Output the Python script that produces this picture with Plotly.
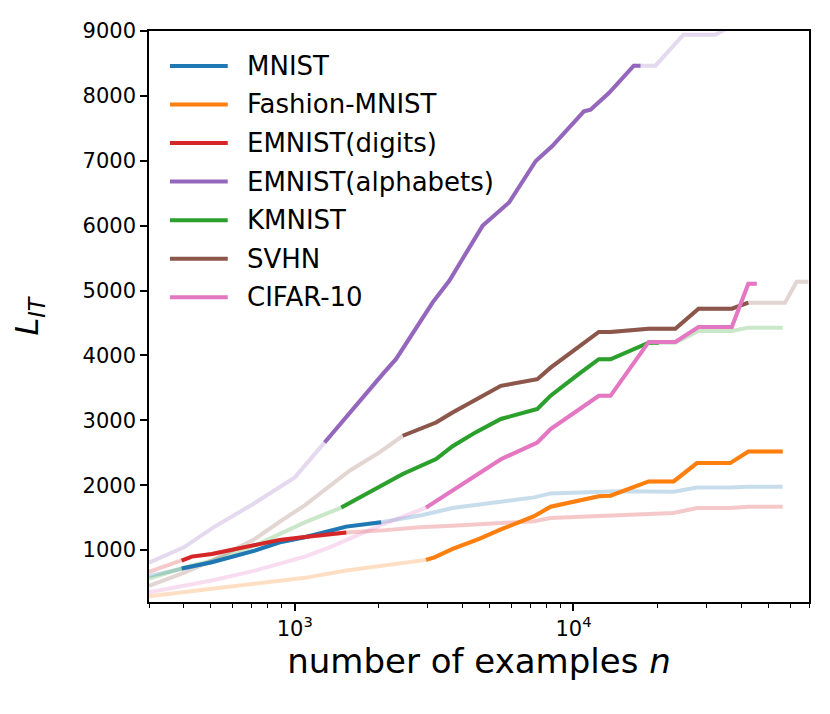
import math
import plotly.graph_objects as go

# ---------------- data ----------------
names = ["MNIST", "Fashion-MNIST", "EMNIST(digits)", "EMNIST(alphabets)",
         "KMNIST", "SVHN", "CIFAR-10"]
colors = ["#1f77b4", "#ff7f0e", "#d62728", "#9467bd", "#2ca02c", "#8c564b", "#e377c2"]

mnist_n = [300, 393, 504, 719, 884, 1086, 1531, 2042, 2877, 3684, 5490, 7223, 8280,
           12330, 14550, 22880, 27730, 36500, 42400, 56330]
mnist_L = [600, 715, 812, 992, 1120, 1197, 1362, 1428, 1541, 1649, 1751, 1812, 1874,
           1890, 1905, 1900, 1966, 1966, 1977, 1977]
mnist_solid = (1, 7)

fashion_n = [300, 504, 719, 1086, 1531, 2958, 3170, 3684, 4590, 5490, 7223, 8280,
             12330, 13580, 18620, 22880, 27730, 36500, 42400, 56330]
fashion_L = [290, 403, 480, 572, 685, 849, 889, 1018, 1172, 1318, 1523, 1669,
             1830, 1838, 2059, 2059, 2341, 2341, 2520, 2520]
fashion_solid = (5, 19)

edigits_n = [300, 393, 427, 504, 719, 884, 1086, 1531, 2014, 2800, 3684, 5490, 7223,
             8280, 14550, 22880, 27730, 36500, 42400, 56330]
edigits_L = [665, 838, 900, 941, 1069, 1157, 1200, 1272, 1300, 1351, 1377, 1413, 1444,
             1495, 1546, 1572, 1649, 1649, 1669, 1669]
edigits_solid = (1, 7)

ealpha_n = [300, 400, 511, 710, 1000, 1280, 1617, 2070, 2311, 3126, 3585, 4718, 5875,
            7325, 8395, 10905, 11520, 13400, 16460, 17400, 19690, 24800, 32270, 34550, 45000]
ealpha_L = [805, 1043, 1351, 1711, 2120, 2658, 3177, 3715, 3946, 4818, 5151, 5997, 6357,
            6997, 7228, 7762, 7787, 8043, 8465, 8465, 8465, 8942, 8942, 9010, 9400]
ealpha_solid = (5, 19)

kmnist_n = [300, 404, 504, 719, 1086, 1469, 2441, 3214, 3684, 4468, 5490, 7420, 8280,
            10460, 12330, 13580, 18620, 20230, 23200, 28100, 37000, 42400, 56330]
kmnist_L = [560, 735, 838, 1069, 1428, 1655, 2172, 2403, 2600, 2818, 3021, 3175, 3380,
            3715, 3941, 3941, 4197, 4197, 4197, 4377, 4377, 4428, 4428]
kmnist_solid = (5, 17)

svhn_n = [300, 404, 504, 719, 896, 1086, 1573, 2014, 2441, 2800, 3214, 3684, 5490, 7420,
          8280, 12330, 13580, 18620, 23200, 28100, 37000, 42400, 57400, 63200, 69600]
svhn_L = [450, 658, 838, 1172, 1454, 1690, 2223, 2505, 2762, 2865, 2966, 3120, 3531, 3634,
          3812, 4362, 4362, 4412, 4412, 4720, 4720, 4812, 4812, 5135, 5135]
svhn_solid = (8, 21)

cifar_n = [300, 504, 719, 884, 1086, 1334, 2014, 2958, 3684, 5490, 7420, 8280, 12330,
           13580, 18620, 23200, 28100, 37000, 42400, 45470]
cifar_L = [350, 531, 684, 788, 900, 1043, 1377, 1655, 1915, 2400, 2658, 2865, 3377,
           3377, 4208, 4208, 4438, 4438, 5105, 5105]
cifar_solid = (7, 19)

series_n = [mnist_n, fashion_n, edigits_n, ealpha_n, kmnist_n, svhn_n, cifar_n]
series_L = [mnist_L, fashion_L, edigits_L, ealpha_L, kmnist_L, svhn_L, cifar_L]
series_solid = [mnist_solid, fashion_solid, edigits_solid, ealpha_solid,
                kmnist_solid, svhn_solid, cifar_solid]

y_ticks = [1000, 2000, 3000, 4000, 5000, 6000, 7000, 8000, 9000]
x_ticks = [1000, 10000]
x_ticktext = ["10<sup>3</sup>", "10<sup>4</sup>"]
x_minor = [300, 400, 500, 600, 700, 800, 900, 2000, 3000, 4000, 5000, 6000, 7000,
           8000, 9000, 20000, 30000, 40000, 50000, 60000, 70000]
x_title = "number of examples <i>n</i>"
y_title = "<i>L</i><sub><i>IT</i></sub>"


def faded(hexcol, a=0.25):
    r = int(hexcol[1:3], 16); g = int(hexcol[3:5], 16); b = int(hexcol[5:7], 16)
    return f"rgba({r},{g},{b},{a})"


LW = 4
fig = go.Figure()
# faded full curves first
for nm, col, xs, ys in zip(names, colors, series_n, series_L):
    fig.add_trace(go.Scatter(x=xs, y=ys, mode="lines", showlegend=False,
                             line=dict(color=faded(col), width=LW), hoverinfo="skip"))
# solid (valid) portions
for nm, col, xs, ys, (a, b) in zip(names, colors, series_n, series_L, series_solid):
    fig.add_trace(go.Scatter(x=xs[a:b + 1], y=ys[a:b + 1], mode="lines", name=nm,
                             showlegend=False, line=dict(color=col, width=LW)))

# page has an 8px body margin -> figure is offset by 8px in the window
OFF = 8
W, H = 814, 698
ml, mr, mt, mb = 141, 11, 21, 104
pw, ph = W - ml - mr, H - mt - mb


def px2paper(x, y):
    # x, y given in window (reference) pixels
    return (x - OFF - ml) / pw, 1 - (y - OFF - mt) / ph


leg_y0 = 64.0
leg_dy = 38.7
for i, (nm, col) in enumerate(zip(names, colors)):
    yy = leg_y0 + i * leg_dy
    x0, yp = px2paper(170, yy)
    x1, _ = px2paper(228, yy)
    fig.add_shape(type="line", xref="paper", yref="paper", x0=x0, x1=x1, y0=yp, y1=yp,
                  line=dict(color=col, width=LW))
    xt, _ = px2paper(245, yy)
    fig.add_annotation(xref="paper", yref="paper", x=xt, y=yp, text=nm, showarrow=False,
                       xanchor="left", yanchor="middle",
                       font=dict(size=26, color="black", family="DejaVu Sans"))

axis_common = dict(showline=True, mirror=True, linecolor="black", linewidth=1.6,
                   ticks="outside", ticklen=7, tickwidth=1.5, tickcolor="black",
                   showgrid=False, zeroline=False)

fig.update_layout(
    width=W, height=H,
    margin=dict(l=ml, r=mr, t=mt, b=mb),
    paper_bgcolor="white", plot_bgcolor="white",
    font=dict(family="DejaVu Sans", color="black"),
    xaxis=dict(type="log", range=[math.log10(300), math.log10(70000)],
               tickmode="array", tickvals=x_ticks, ticktext=x_ticktext,
               tickfont=dict(size=21, color="black", family="DejaVu Sans"),
               minor=dict(tickmode="array", tickvals=x_minor, ticks="outside",
                          ticklen=4, tickwidth=1.2, tickcolor="black"),
               title=dict(text=x_title,
                          font=dict(size=34, family="DejaVu Sans", color="black"),
                          standoff=0),
               **axis_common),
    yaxis=dict(range=[200, 9000], tickmode="array", tickvals=y_ticks,
               tickformat="d",
               tickfont=dict(size=21, color="black", family="DejaVu Sans"),
               title=dict(text=y_title,
                          font=dict(size=32, family="DejaVu Sans", color="black"),
                          standoff=36),
               **axis_common),
)

fig.write_html("out.html")
